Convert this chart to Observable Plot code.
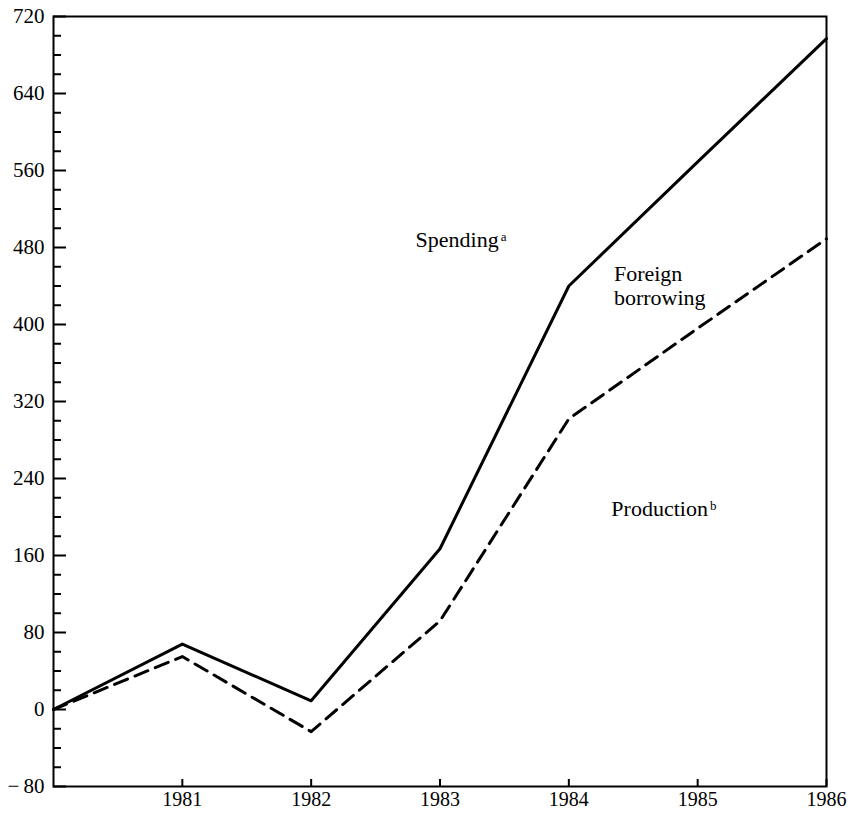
<!DOCTYPE html>
<html><head><meta charset="utf-8">
<script src="https://cdn.jsdelivr.net/npm/d3@7"></script>
<script src="https://cdn.jsdelivr.net/npm/@observablehq/plot@0.6"></script>
<style>body{margin:0;background:#fff}</style>
</head><body><div id="chart"></div>
<script>
const years = [1980, 1981, 1982, 1983, 1984, 1985, 1986];
const spending = [0, 68, 9, 167, 440, 569, 697];
const production = [0, 55, -23, 92, 302, 396, 489];
const xTicks = [1981, 1982, 1983, 1984, 1985, 1986];
const yMajor = [-80, 0, 80, 160, 240, 320, 400, 480, 560, 640, 720];
const yMinor = [-60, -40, -20, 20, 40, 60, 100, 120, 140, 180, 200, 220, 260, 280, 300, 340, 360, 380, 420, 440, 460, 500, 520, 540, 580, 600, 620, 660, 680, 700];
const labels = [
  {x: 1982.81, y: 489, text: "Spending", sup: "a"},
  {x: 1984.35, y: 441, text: "Foreign\nborrowing", sup: ""},
  {x: 1984.33, y: 209, text: "Production", sup: "b"}
];

const spendRows = years.map((y, i) => ({year: y, value: spending[i]}));
const prodRows = years.map((y, i) => ({year: y, value: production[i]}));
const blank = () => "";

const chart = Plot.plot({
  width: 849, height: 813,
  marginLeft: 53, marginRight: 23, marginTop: 16, marginBottom: 27,
  style: {fontFamily: "Liberation Serif", fontSize: "20px", background: "#fff", color: "#000"},
  x: {domain: [1980, 1986]},
  y: {domain: [-80, 720]},
  marks: [
    Plot.axisY({ticks: yMajor, tickSize: 0, tickPadding: 9, fontSize: 21,
      tickFormat: d => d < 0 ? "\u2212\u2009" + Math.abs(d) : String(d)}),
    Plot.axisY({ticks: yMajor, tickSize: -13, tickFormat: blank, strokeWidth: 2}),
    Plot.axisY({ticks: yMinor, tickSize: -8, tickFormat: blank, strokeWidth: 2}),
    Plot.axisX({ticks: xTicks, tickSize: 0, tickPadding: 5, fontSize: 20, tickFormat: d => String(d)}),
    Plot.axisX({ticks: xTicks, tickSize: -7, tickFormat: blank, strokeWidth: 2}),
    Plot.frame({stroke: "#000", strokeWidth: 2}),
    Plot.line(spendRows, {x: "year", y: "value", stroke: "#000", strokeWidth: 3}),
    Plot.line(prodRows, {x: "year", y: "value", stroke: "#000", strokeWidth: 3, strokeDasharray: "14,8"}),
    Plot.text(labels, {x: "x", y: "y", text: "text", textAnchor: "start", fontSize: 22, lineHeight: 1.1, fill: "#000", className: "lbl"})
  ]
});
document.getElementById("chart").appendChild(chart);
// add superscripts
d3.select(chart).selectAll("g.lbl text").each(function() {
  const node = d3.select(this);
  const txt = node.text();
  const lab = labels.find(l => l.text === txt);
  if (lab && lab.sup) {
    node.append("tspan").attr("font-size", 13).attr("dx", 2).attr("dy", -6).text(lab.sup);
  }
});
</script>
</body></html>
